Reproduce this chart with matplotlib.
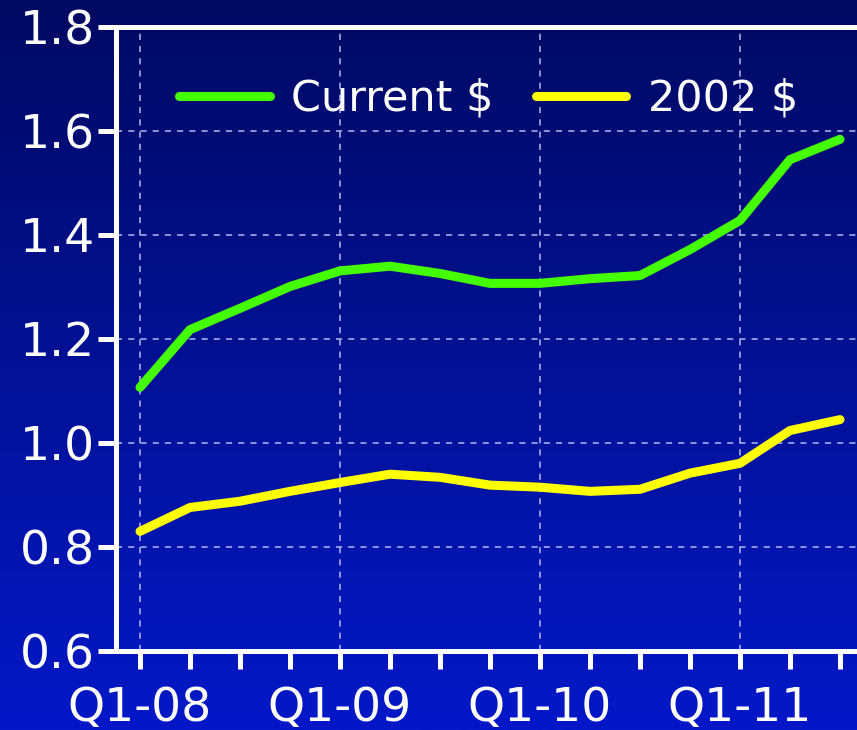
import numpy as np
import matplotlib.pyplot as plt
from matplotlib.colors import LinearSegmentedColormap

quarters = ["Q1-08", "Q2-08", "Q3-08", "Q4-08",
            "Q1-09", "Q2-09", "Q3-09", "Q4-09",
            "Q1-10", "Q2-10", "Q3-10", "Q4-10",
            "Q1-11", "Q2-11", "Q3-11"]
current_usd = [1.107, 1.218, 1.259, 1.301, 1.331, 1.340, 1.326, 1.307,
               1.307, 1.316, 1.322, 1.372, 1.428, 1.545, 1.584]
real_2002_usd = [0.830, 0.876, 0.888, 0.907, 0.924, 0.940, 0.934, 0.919,
                 0.915, 0.907, 0.911, 0.942, 0.961, 1.024, 1.045]
y_ticks = [0.6, 0.8, 1.0, 1.2, 1.4, 1.6, 1.8]

fig = plt.figure(figsize=(8.57, 7.30), dpi=100)

# blue gradient background
bg = fig.add_axes([0, 0, 1, 1], zorder=-10)
cmap = LinearSegmentedColormap.from_list("bg", ["#000a62", "#0418c8"])
grad = np.linspace(0, 1, 256).reshape(-1, 1)
bg.imshow(grad, aspect="auto", cmap=cmap, extent=[0, 1, 0, 1], origin="upper")
bg.axis("off")

ax = fig.add_axes([116 / 857, 79 / 730, 1 - 116 / 857, 624 / 730])
ax.patch.set_alpha(0)

x = np.arange(len(quarters))
ax.plot(x, current_usd, color="#44ff00", lw=6.5, solid_capstyle="round",
        solid_joinstyle="round", label="Current $", zorder=3)
ax.plot(x, real_2002_usd, color="#ffff00", lw=6.5, solid_capstyle="round",
        solid_joinstyle="round", label="2002 $", zorder=3)

ax.set_xlim(-0.48, 14.34)
ax.set_ylim(0.6, 1.8)
ax.set_yticks(y_ticks)
ax.set_yticklabels([f"{v:.1f}" for v in y_ticks])
ax.set_xticks(x)
ax.set_xticklabels([q if i % 4 == 0 else "" for i, q in enumerate(quarters)])

for s in ["left", "bottom", "top"]:
    ax.spines[s].set_color("white")
    ax.spines[s].set_linewidth(3.6)
ax.spines["right"].set_visible(False)

ax.tick_params(colors="white", labelsize=34, width=3.6, length=13)
ax.tick_params(axis="y", pad=2)
ax.tick_params(axis="x", pad=12)
for t in ax.xaxis.get_ticklines() + ax.yaxis.get_ticklines():
    t.set_solid_capstyle("round")

gl = dict(color="#b4b8ec", lw=1.1, ls=(0, (4, 4)), zorder=1)
for v in y_ticks[1:-1]:
    ax.axhline(v, **gl)
for i in range(0, len(quarters), 4):
    ax.axvline(i, **gl)

leg = ax.legend(loc="upper left", bbox_to_anchor=(0.039, 0.974), ncol=2,
                frameon=False, fontsize=31, handlelength=2.1,
                columnspacing=0.98, handletextpad=0.5, borderpad=0.3)
for t in leg.get_texts():
    t.set_color("white")

fig.savefig("out.png", dpi=100)
